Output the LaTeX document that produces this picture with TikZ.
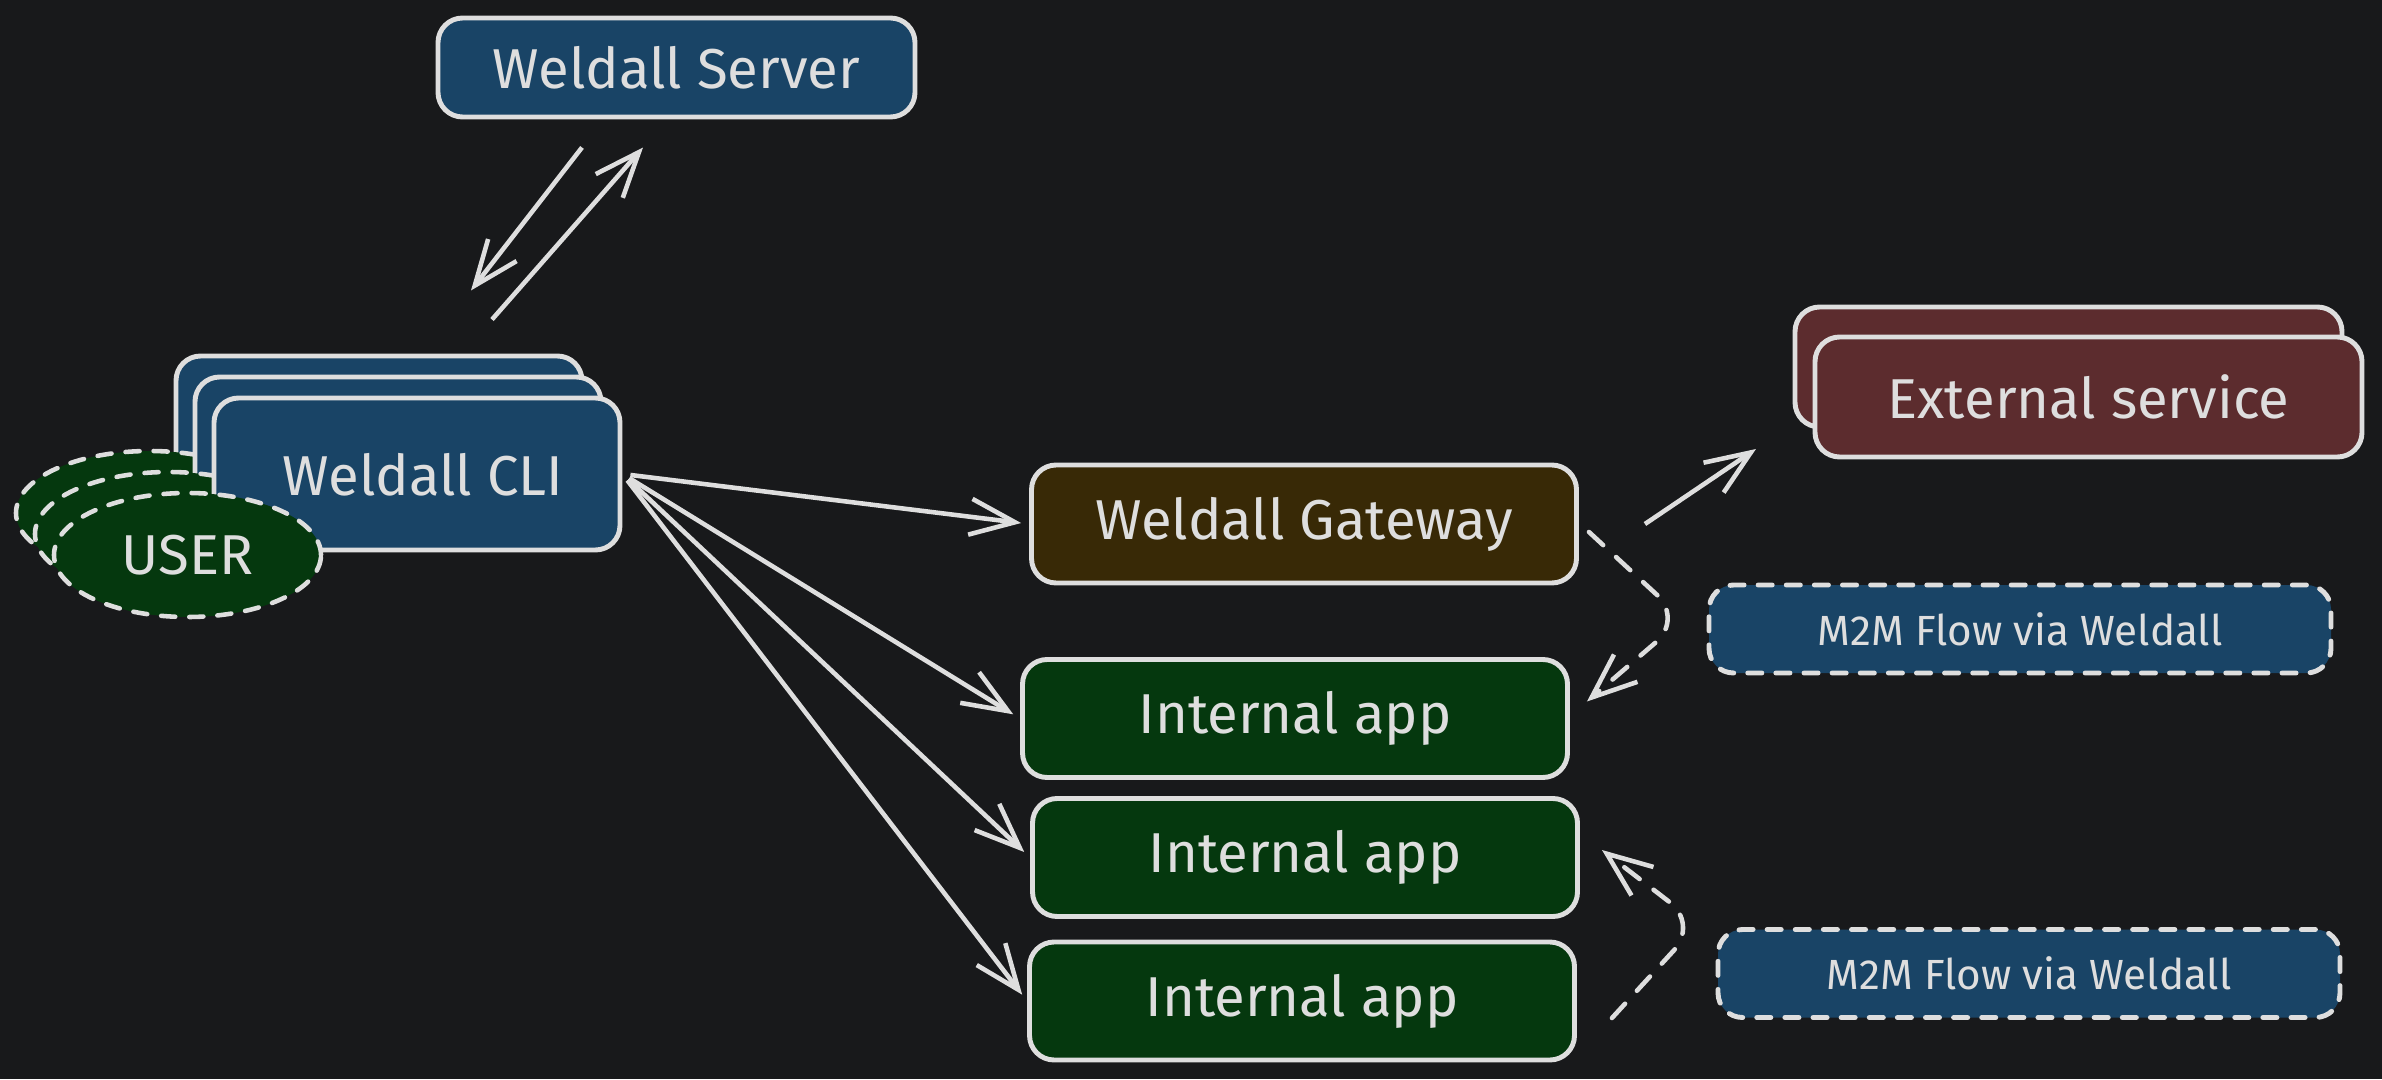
\documentclass[tikz,border=0pt]{standalone}
\usepackage{fontspec}
\setmainfont{Fira Sans}
\usepackage{xcolor}
\usepackage{tikz}
\usetikzlibrary{positioning, shapes.geometric, arrows.meta, calc}
\definecolor{fondnoir}{RGB}{24, 25, 27}
\definecolor{traitclair}{RGB}{222, 222, 222}
\definecolor{bleunuit}{RGB}{25, 68, 102}
\definecolor{vertfonce}{RGB}{5, 56, 14}
\definecolor{brunfonce}{RGB}{56, 41, 6}
\definecolor{rougefonce}{RGB}{92, 44, 46}

\begin{document}
\begin{tikzpicture}[
    font=\fontsize{16}{19}\selectfont,
    boite/.style={draw=traitclair, line width=1.4pt, rounded corners=7pt, text=traitclair,
      minimum width=5.45cm, minimum height=1.18cm, inner sep=0pt},
    pointilles/.style={dash pattern=on 4pt off 4pt, line cap=round},
    usager/.style={ellipse, draw=traitclair, fill=vertfonce, line width=1.3pt, pointilles,
      minimum width=2.67cm, minimum height=1.24cm, inner sep=0pt, text=traitclair},
    flux/.style={boite, pointilles, fill=bleunuit, minimum width=6.22cm, minimum height=0.88cm,
      font=\fontsize{12}{14}\selectfont},
    fleche/.style={draw=traitclair, line width=1.3pt, -{Straight Barb[length=4.5mm, width=3.6mm]}},
    fleche pointillee/.style={fleche, dash pattern=on 5.5pt off 5pt, line cap=round, rounded corners=10pt}
  ]
    \fill[fondnoir] (0,0) rectangle (23.82,10.79);
    \useasboundingbox (0,0) rectangle (23.82,10.79);

    % serveur
    \node[boite, fill=bleunuit, minimum width=4.77cm, minimum height=0.99cm] (serveur) at (6.765,10.115) {Weldall Server};

    % pile CLI + usagers (copies derriere)
    \foreach \k in {2,1} {
      \node[boite, fill=bleunuit, minimum width=4.06cm, minimum height=1.52cm] (cli\k) at ($(4.17,6.05)+(-0.19*\k,0.21*\k)$) {};
      \node[usager] (usager\k) at ($(1.875,5.24)+(-0.19*\k,0.21*\k)$) {};
    }
    \node[boite, fill=bleunuit, minimum width=4.06cm, minimum height=1.52cm, text depth=-0.12cm] (cli) at (4.17,6.05) {\hspace*{0.12cm}Weldall CLI};
    \node[usager] (usager) at (1.875,5.24) {USER};

    % passerelle et service externe
    \node[boite, fill=brunfonce] (passerelle) at (13.04,5.55) {Weldall Gateway};
    \node[boite, fill=rougefonce, minimum width=5.47cm, minimum height=1.2cm] (externe2) at (20.685,7.12) {};
    \node[boite, fill=rougefonce, minimum width=5.47cm, minimum height=1.2cm] (externe) at (20.885,6.82) {External service};

    % applis internes
    \node[boite, fill=vertfonce] (app1) at (12.95,3.605) {Internal app};
    \node[boite, fill=vertfonce] (app2) at (13.05,2.215) {Internal app};
    \node[boite, fill=vertfonce] (app3) at (13.02,0.78) {Internal app};

    % flux M2M
    \node[flux] (m2m1) at (20.2,4.5) {M2M Flow via Weldall};
    \node[flux] (m2m2) at (20.29,1.055) {M2M Flow via Weldall};

    % fleches
    \draw[fleche] (serveur.south) ++(-0.945,-0.28) -- ++(-1.11,-1.43);
    \draw[fleche] (cli.north) ++(0.75,0.76) -- ++(1.51,1.72);
    \foreach \cible in {passerelle, app1, app2, app3}
      \draw[fleche, shorten <=0.8mm, shorten >=0.8mm] (cli.east) -- (\cible.west);
    \draw[fleche] (passerelle.east) ++(0.66,0) -- ++(1.11,0.75);

    \coordinate (coude1) at (16.83,4.6);
    \coordinate (coude2) at (16.98,1.55);
    \draw[fleche pointillee] ($(passerelle.east)+(0.1,-0.08)$) -- (coude1) -- ($(app1.east)+(0.17,0.17)$);
    \draw[fleche pointillee] ($(app3.east)+(0.35,-0.17)$) -- (coude2) -- ($(app2.east)+(0.22,0.075)$);
  \end{tikzpicture}
\end{document}
